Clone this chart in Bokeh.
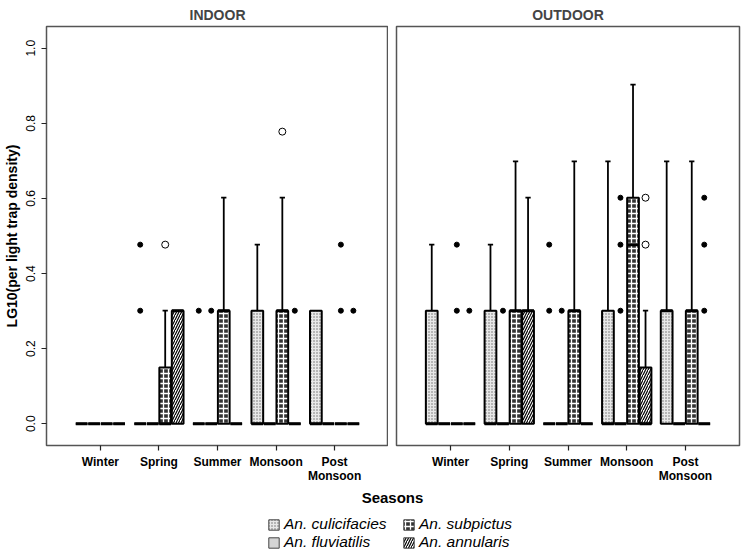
from bokeh.plotting import figure
from bokeh.models import (ColumnDataSource, FactorRange, Range1d, FixedTicker,
                          Label, Legend, LegendItem, NumeralTickFormatter)
from bokeh.transform import dodge
from bokeh.layouts import column, row
from bokeh.embed import file_html
from bokeh.resources import INLINE

FONT = "Liberation Sans"

seasons = ["Winter", "Spring", "Summer", "Monsoon", "Post Monsoon"]
season_ticks = ["Winter", "Spring", "Summer", "Monsoon", "Post\nMonsoon"]
species = ["An. culicifacies", "An. fluviatilis", "An. subpictus", "An. annularis"]
y_ticks = [0.0, 0.2, 0.4, 0.6, 0.8, 1.0]

# rows = seasons, columns = species
indoor_q1 = [[0, 0, 0, 0], [0, 0, 0, 0], [0, 0, 0, 0], [0, 0, 0, 0], [0, 0, 0, 0]]
indoor_median = [[0, 0, 0, 0], [0, 0, 0, 0.301], [0, 0, 0.301, 0], [0, 0, 0.301, 0], [0, 0, 0, 0]]
indoor_q3 = [[0, 0, 0, 0], [0, 0, 0.150, 0.301], [0, 0, 0.301, 0], [0.301, 0, 0.301, 0], [0.301, 0, 0, 0]]
indoor_upper = [[0, 0, 0, 0], [0, 0, 0.301, 0.301], [0, 0, 0.602, 0], [0.477, 0, 0.602, 0], [0.301, 0, 0, 0]]
indoor_out_season = ["Spring", "Spring", "Spring", "Summer", "Summer", "Monsoon", "Monsoon",
                     "Post Monsoon", "Post Monsoon", "Post Monsoon"]
indoor_out_species = [0, 0, 2, 0, 1, 2, 3, 2, 2, 3]
indoor_out_value = [0.477, 0.301, 0.477, 0.301, 0.301, 0.778, 0.301, 0.477, 0.301, 0.301]
indoor_out_open = [False, False, True, False, False, True, False, False, False, False]

outdoor_q1 = [[0, 0, 0, 0], [0, 0, 0, 0], [0, 0, 0, 0], [0, 0, 0, 0], [0, 0, 0, 0]]
outdoor_median = [[0, 0, 0, 0], [0, 0, 0.301, 0.301], [0, 0, 0.301, 0], [0, 0, 0.477, 0], [0.301, 0, 0.301, 0]]
outdoor_q3 = [[0.301, 0, 0, 0], [0.301, 0, 0.301, 0.301], [0, 0, 0.301, 0], [0.301, 0, 0.602, 0.150], [0.301, 0, 0.301, 0]]
outdoor_upper = [[0.477, 0, 0, 0], [0.477, 0, 0.699, 0.602], [0, 0, 0.699, 0], [0.699, 0, 0.903, 0.301], [0.699, 0, 0.699, 0]]
outdoor_out_season = ["Winter", "Winter", "Winter", "Spring", "Summer", "Summer", "Summer",
                      "Monsoon", "Monsoon", "Monsoon", "Monsoon", "Monsoon",
                      "Post Monsoon", "Post Monsoon", "Post Monsoon"]
outdoor_out_species = [2, 2, 3, 1, 0, 0, 1, 1, 1, 1, 3, 3, 3, 3, 3]
outdoor_out_value = [0.477, 0.301, 0.301, 0.301, 0.477, 0.301, 0.301,
                     0.602, 0.477, 0.301, 0.602, 0.477, 0.602, 0.477, 0.301]
outdoor_out_open = [False, False, False, False, False, False, False,
                    False, False, False, True, True, False, False, False]

offsets = [-0.32, -0.107, 0.107, 0.32]
box_w = 0.2
cap_half = 0.045

styles = [
    dict(fill_color="#e8e8e8", hatch_pattern="dot", hatch_color="#6a6a6a", hatch_scale=3, hatch_weight=1),
    dict(fill_color="#d4d4d4"),
    dict(fill_color="#333333", hatch_pattern="cross", hatch_color="white", hatch_scale=5, hatch_weight=1.3),
    dict(fill_color="white", hatch_pattern="/", hatch_color="black", hatch_scale=5, hatch_weight=1.2),
]

tick_of = dict(zip(seasons, season_ticks))
y_range = Range1d(-0.058, 1.058)


def make_panel(title, q1, med, q3, upper, o_season, o_species, o_value, o_open,
               width, min_left, min_right, show_y):
    p = figure(width=width, height=486,
               x_range=FactorRange(*season_ticks, range_padding=0.42, range_padding_units="absolute"),
               y_range=y_range, output_backend="svg", toolbar_location=None,
               min_border_left=min_left, min_border_right=min_right, min_border_top=23,
               min_border_bottom=39, y_axis_location="left" if show_y else None,
               title=title)
    p.title.align = "center"
    p.title.text_font = FONT
    p.title.text_font_size = "14px"
    p.title.text_font_style = "bold"
    p.title.standoff = 8
    p.title.offset = 0
    p.grid.visible = False
    p.outline_line_color = "#555555"
    p.outline_line_width = 1.5
    p.background_fill_color = "white"
    p.border_fill_color = "white"

    cats = [tick_of[s] for s in seasons]
    for k in range(4):
        src = ColumnDataSource(dict(
            season=cats,
            q1=[r[k] for r in q1], med=[r[k] for r in med],
            q3=[r[k] for r in q3], upper=[r[k] for r in upper]))
        keep = [i for i in range(len(seasons)) if upper[i][k] > q3[i][k]]
        wsrc = ColumnDataSource(dict(
            season=[cats[i] for i in keep],
            q3=[q3[i][k] for i in keep],
            upper=[upper[i][k] for i in keep]))
        p.segment(x0=dodge("season", offsets[k], range=p.x_range), y0="q3",
                  x1=dodge("season", offsets[k], range=p.x_range), y1="upper",
                  source=wsrc, line_color="black", line_width=1.8)
        p.segment(x0=dodge("season", offsets[k] - cap_half, range=p.x_range), y0="upper",
                  x1=dodge("season", offsets[k] + cap_half, range=p.x_range), y1="upper",
                  source=wsrc, line_color="black", line_width=1.8)
        p.vbar(x=dodge("season", offsets[k], range=p.x_range), width=box_w,
               bottom="q1", top="q3", source=src, line_color="black", line_width=2,
               **styles[k])
        p.segment(x0=dodge("season", offsets[k] - box_w / 2, range=p.x_range), y0="med",
                  x1=dodge("season", offsets[k] + box_w / 2, range=p.x_range), y1="med",
                  source=src, line_color="black", line_width=3)

        sel_f = [i for i in range(len(o_value)) if o_species[i] == k and not o_open[i]]
        sel_o = [i for i in range(len(o_value)) if o_species[i] == k and o_open[i]]
        osrc_f = ColumnDataSource(dict(season=[tick_of[o_season[i]] for i in sel_f],
                                       v=[o_value[i] for i in sel_f]))
        osrc_o = ColumnDataSource(dict(season=[tick_of[o_season[i]] for i in sel_o],
                                       v=[o_value[i] for i in sel_o]))
        p.scatter(x=dodge("season", offsets[k], range=p.x_range), y="v", source=osrc_f,
                  size=5, fill_color="black", line_color="black")
        p.scatter(x=dodge("season", offsets[k], range=p.x_range), y="v", source=osrc_o,
                  size=7, fill_color="white", line_color="black", line_width=1)

    xa = p.xaxis[0]
    xa.axis_line_color = None
    xa.major_tick_in = 0
    xa.major_tick_out = 5
    xa.major_tick_line_color = "#222222"
    xa.major_tick_line_width = 1.2
    xa.minor_tick_line_color = None
    xa.major_label_text_font = FONT
    xa.major_label_text_font_size = "12px"
    xa.major_label_text_font_style = "bold"
    xa.major_label_text_color = "black"
    xa.major_label_text_line_height = 1.05
    xa.major_label_standoff = 4

    if show_y:
        ya = p.yaxis[0]
        ya.ticker = FixedTicker(ticks=y_ticks)
        ya.formatter = NumeralTickFormatter(format="0.0")
        ya.axis_line_color = None
        ya.major_tick_in = 0
        ya.major_tick_out = 5
        ya.major_tick_line_color = "#222222"
        ya.major_tick_line_width = 1.2
        ya.minor_tick_line_color = None
        ya.major_label_orientation = "vertical"
        ya.major_label_text_font = FONT
        ya.major_label_text_font_size = "12px"
        ya.major_label_text_color = "black"
        ya.major_label_standoff = 6
        ya.axis_label = "LG10(per light trap density)"
        ya.axis_label_text_font = FONT
        ya.axis_label_text_font_size = "14px"
        ya.axis_label_text_font_style = "bold"
        ya.axis_label_text_color = "black"
        ya.axis_label_standoff = 4
    return p


p1 = make_panel("INDOOR", indoor_q1, indoor_median, indoor_q3, indoor_upper,
                indoor_out_season, indoor_out_species, indoor_out_value, indoor_out_open,
                width=388, min_left=45, min_right=0, show_y=True)
p2 = make_panel("OUTDOOR", outdoor_q1, outdoor_median, outdoor_q3, outdoor_upper,
                outdoor_out_season, outdoor_out_species, outdoor_out_value, outdoor_out_open,
                width=355, min_left=8, min_right=4, show_y=False)

p3 = figure(width=743, height=66, x_range=Range1d(0, 743), y_range=Range1d(0, 66),
            output_backend="svg", toolbar_location=None, min_border=0,
            x_axis_location=None, y_axis_location=None)
p3.grid.visible = False
p3.outline_line_color = None
p3.add_layout(Label(x=392, y=55, text="Seasons", text_align="center", text_baseline="middle",
                    text_font=FONT, text_font_size="15px", text_font_style="bold",
                    text_color="black"))
items = []
for k in range(4):
    # legend proxies: a zero-size bar placed outside the visible range
    r = p3.vbar(x=[-100], top=[0], bottom=[0], width=0, line_color="#444444",
                line_width=1, **styles[k])
    items.append(LegendItem(label=species[k], renderers=[r]))
legend = Legend(items=items, ncols=2, location=(267, 1), orientation="vertical",
                label_text_font=FONT, label_text_font_style="italic",
                label_text_font_size="15.5px", label_text_color="black",
                glyph_width=13, glyph_height=13, label_standoff=4, label_width=118,
                label_height=15, spacing=0, padding=0, margin=0,
                border_line_color=None, background_fill_alpha=0)
p3.add_layout(legend)

layout = column(row(p1, p2, spacing=0), p3, spacing=0)
open("out.html", "w").write(file_html(layout, INLINE))
